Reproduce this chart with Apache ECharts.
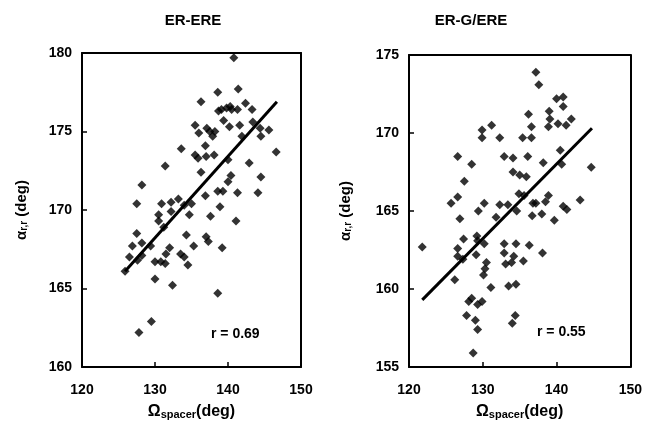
<!DOCTYPE html>
<html>
<head>
<meta charset="utf-8">
<script src="https://cdn.jsdelivr.net/npm/echarts@6/dist/echarts.min.js"></script>
<style>
  html, body { margin: 0; padding: 0; background: #fff; }
  #chart { width: 645px; height: 425px; }
</style>
</head>
<body>
<div id="chart"></div>
<script>
// ER-ERE panel
var titles = ['ER-ERE', 'ER-G/ERE'];
var xTicks = [120, 130, 140, 150];
var yTicksLeft = [160, 165, 170, 175, 180];
var yTicksRight = [155, 160, 165, 170, 175];

var pointsLeft = [
  [140.8,179.7],[141.4,177.7],[138.6,177.5],[136.3,176.9],[138.7,176.3],[139.1,176.4],
  [139.8,176.5],[140.3,176.6],[140.5,176.4],[141.3,176.4],[142.4,176.8],[143.3,176.4],
  [135.5,175.4],[136.0,174.9],[137.1,175.2],[137.5,175.0],[138.2,175.0],[139.4,175.7],
  [140.2,175.3],[141.6,175.4],[143.4,175.6],[141.9,174.7],[144.4,175.2],[145.6,175.1],
  [144.5,174.7],[137.9,174.7],[136.9,174.1],[133.6,173.9],[135.5,173.5],[135.9,173.3],
  [137.0,173.4],[138.1,173.5],[140.0,173.2],[146.6,173.7],[142.9,173.0],[131.4,172.8],
  [136.3,172.4],[140.4,172.2],[144.5,172.1],[128.2,171.6],[140.0,171.8],[136.9,170.9],
  [138.6,171.2],[139.3,171.2],[141.3,171.1],[144.1,171.1],[127.5,170.4],[130.9,170.4],
  [132.2,170.5],[133.2,170.7],[134.0,170.3],[135.0,170.4],[138.9,170.2],[130.5,169.7],
  [132.2,169.9],[134.7,169.7],[137.6,169.6],[130.5,169.3],[131.2,168.9],[141.1,169.3],
  [127.5,168.5],[134.3,168.4],[137.0,168.3],[137.3,168.0],[126.9,167.7],[128.2,167.9],
  [129.4,167.7],[135.3,167.7],[139.2,167.6],[132.0,167.6],[126.5,167.0],[127.6,166.8],
  [128.2,167.1],[131.5,167.2],[133.5,167.2],[134.0,167.0],[130.0,166.7],[130.8,166.7],
  [131.4,166.6],[134.5,166.5],[125.9,166.1],[130.0,165.6],[132.4,165.2],[138.6,164.7],
  [129.5,162.9],[127.8,162.2]
];
var fitLeft = [[125.9,166.1],[146.7,176.9]];

// ER-G/ERE panel
var pointsRight = [
  [137.2,173.9],[137.6,173.1],[140.0,172.2],[140.9,172.3],[140.9,171.7],[139.0,171.4],
  [139.1,170.9],[136.2,171.2],[140.2,170.6],[141.3,170.5],[142.0,170.9],[138.9,170.4],
  [129.9,170.2],[131.2,170.5],[129.9,169.7],[132.3,169.7],[136.6,170.4],[135.4,169.7],
  [136.6,169.7],[126.6,168.5],[128.5,168.0],[132.9,168.5],[134.1,168.4],[136.1,168.5],
  [138.2,168.1],[140.5,168.9],[140.7,168.0],[144.7,167.8],[127.5,166.9],[134.1,167.5],
  [135.0,167.3],[135.9,167.2],[125.7,165.5],[126.6,165.9],[126.9,164.5],[129.4,165.0],
  [130.2,165.5],[132.3,165.4],[131.8,164.6],[133.4,165.4],[134.6,165.0],[134.9,166.1],
  [135.6,166.0],[136.8,165.5],[137.2,165.5],[136.7,164.7],[138.0,164.8],[138.5,165.6],
  [138.9,166.0],[139.7,164.4],[140.9,165.3],[141.4,165.1],[143.2,165.7],[121.8,162.7],
  [126.6,162.6],[127.4,163.2],[126.6,162.1],[127.3,161.9],[129.2,163.4],[129.3,163.1],
  [129.1,162.2],[130.2,162.9],[130.5,161.7],[130.3,161.3],[132.9,162.9],[132.9,162.3],
  [133.1,161.6],[133.9,161.7],[134.2,162.1],[134.5,162.9],[135.5,161.8],[136.3,162.8],
  [138.1,162.3],[126.2,160.6],[130.1,160.9],[131.1,160.1],[133.5,160.2],[134.5,160.3],
  [128.1,159.2],[128.5,159.4],[129.3,159.0],[129.9,159.2],[127.8,158.3],[129.0,158.0],
  [129.3,157.4],[134.4,158.3],[134.0,157.8],[128.7,155.9]
];
var fitRight = [[121.8,159.3],[144.8,170.3]];

var rLabels = ['r = 0.69', 'r = 0.55'];

var fontFam = '"Liberation Sans", Arial, sans-serif';

var makeX = function(idx){
  return {
    gridIndex: idx, type: 'value', min: 120, max: 150, interval: 10,
    name: '{o|Ω}{s|spacer}{o|(deg)}', nameLocation: 'middle', nameGap: 36,
    nameTextStyle: {
      rich: {
        o: { fontSize: 16, fontWeight: 'bold', color: '#000', fontFamily: fontFam },
        s: { fontSize: 11, fontWeight: 'bold', color: '#000', fontFamily: fontFam, verticalAlign: 'bottom', padding: [6, 0, 0, 0] }
      }
    },
    axisLine: { show: true, onZero: false, lineStyle: { color: '#000', width: 2 } },
    axisTick: { show: true, inside: true, length: 5, lineStyle: { color: '#000', width: 1.5 } },
    axisLabel: { color: '#000', fontSize: 14, fontWeight: 'bold', fontFamily: fontFam, margin: 16 },
    splitLine: { show: false }
  };
};
var makeY = function(idx, lo, hi, gap){
  return {
    gridIndex: idx, type: 'value', min: lo, max: hi, interval: 5,
    name: '{o|α}{s|r,r}{o| (deg)}', nameLocation: 'middle', nameGap: gap, nameRotate: 90,
    nameTextStyle: {
      rich: {
        o: { fontSize: 15, fontWeight: 'bold', color: '#000', fontFamily: fontFam },
        s: { fontSize: 10, fontWeight: 'bold', color: '#000', fontFamily: fontFam, verticalAlign: 'bottom', padding: [5, 0, 0, 0] }
      }
    },
    axisLine: { show: true, onZero: false, lineStyle: { color: '#000', width: 2 } },
    axisTick: { show: true, inside: true, length: 5, lineStyle: { color: '#000', width: 1.5 } },
    axisLabel: { color: '#000', fontSize: 14, fontWeight: 'bold', fontFamily: fontFam, margin: 10 },
    splitLine: { show: false }
  };
};
// right/top edges of the box
var edgeX = function(idx){
  return { gridIndex: idx, type: 'value', min: 120, max: 150, position: 'top',
    axisLine: { show: true, onZero: false, lineStyle: { color: '#000', width: 2 } },
    axisTick: { show: false }, axisLabel: { show: false }, splitLine: { show: false } };
};
var edgeY = function(idx, lo, hi){
  return { gridIndex: idx, type: 'value', min: lo, max: hi, position: 'right',
    axisLine: { show: true, onZero: false, lineStyle: { color: '#000', width: 2 } },
    axisTick: { show: false }, axisLabel: { show: false }, splitLine: { show: false } };
};

var chart = echarts.init(document.getElementById('chart'));
var option = {
  backgroundColor: '#fff',
  animation: false,
  title: [
    { text: titles[0], left: 188, top: 8, textAlign: 'center',
      textStyle: { fontSize: 15, fontWeight: 'bold', color: '#000', fontFamily: fontFam } },
    { text: titles[1], left: 466, top: 8, textAlign: 'center',
      textStyle: { fontSize: 15, fontWeight: 'bold', color: '#000', fontFamily: fontFam } }
  ],
  grid: [
    { left: 82, top: 53, width: 219, height: 315 },
    { left: 409, top: 55, width: 222, height: 313 }
  ],
  xAxis: [makeX(0), makeX(1), edgeX(0), edgeX(1)],
  yAxis: [makeY(0, 160, 180, 53), makeY(1, 155, 175, 56), edgeY(0, 160, 180), edgeY(1, 155, 175)],
  series: [
    { type: 'scatter', xAxisIndex: 0, yAxisIndex: 0, data: pointsLeft,
      symbol: 'diamond', symbolSize: 9, itemStyle: { color: '#000' } },
    { type: 'line', xAxisIndex: 0, yAxisIndex: 0, data: fitLeft, symbol: 'none',
      lineStyle: { color: '#000', width: 3 } },
    { type: 'scatter', xAxisIndex: 1, yAxisIndex: 1, data: pointsRight,
      symbol: 'diamond', symbolSize: 9, itemStyle: { color: '#000' } },
    { type: 'line', xAxisIndex: 1, yAxisIndex: 1, data: fitRight, symbol: 'none',
      lineStyle: { color: '#000', width: 3 } }
  ],
  graphic: [
    { type: 'text', left: 211, top: 327,
      style: { text: rLabels[0], fontSize: 14, fontWeight: 'bold', fill: '#000', fontFamily: fontFam } },
    { type: 'text', left: 537, top: 325,
      style: { text: rLabels[1], fontSize: 14, fontWeight: 'bold', fill: '#000', fontFamily: fontFam } }
  ]
};
chart.setOption(option);
</script>
</body>
</html>
